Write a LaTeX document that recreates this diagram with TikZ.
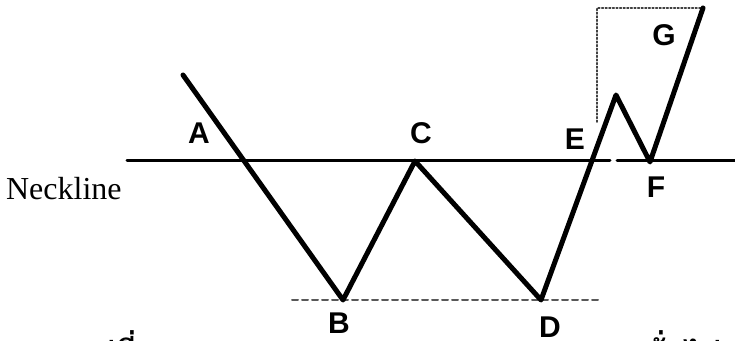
\documentclass[tikz,border=0pt]{standalone}
\usepackage{fontspec}
\setmainfont{Liberation Serif}
\newfontfamily\labelfont{Liberation Sans}
\newfontfamily\thaifont[Script=Thai]{Loma}

\begin{document}
\begin{tikzpicture}[x=0.5pt, y=-0.5pt, line join=round, line cap=round,
	pricepath/.style={line width=2.5pt},
	neck/.style={line width=1.5pt},
	guide/.style={densely dotted, line width=0.8pt, black!75},
	ptlabel/.style={font=\labelfont\bfseries\fontsize{15}{15}\selectfont, inner sep=0pt}]
	\useasboundingbox (0,0) rectangle (735,341);
	\clip (0,0) rectangle (735,341);
	
	% Constants
	\def\yN{161}   % neckline level
	\def\yL{300}   % bottom level
	
	% Main points
	\coordinate (P) at (183,75);
	\coordinate (B) at (343,\yL);
	\coordinate (C) at (415,\yN);
	\coordinate (D) at (541,\yL);
	\coordinate (E) at (616,95);
	\coordinate (F) at (650,162);
	\coordinate (G) at (703,8);
	
	% Neckline ends and gap
	\coordinate (N0) at (127,\yN);
	\coordinate (N1) at (610,\yN);
	\coordinate (N2) at (617,\yN);
	\coordinate (N3) at (735,\yN);
	
	% Bottom guide
	\coordinate (L0) at (292,\yL);
	\coordinate (L1) at (598,\yL);
	
	% Target box corners
	\coordinate (T0) at (597,122);
	\coordinate (T1) at (597,8);
	
	% Neckline
	\draw[neck] (N0) -- (N1);
	\draw[neck] (N2) -- (N3);
	
	% Guides
	\draw[densely dashed, line width=1pt, black!65] (L0) -- (L1);
	\draw[guide] (T0) -- (T1) -- (G);
	
	% Price path
	\draw[pricepath] (P) -- (B) -- (C) -- (D) -- (E) -- (F) -- (G);
	
	% Labels
	\node[ptlabel] (lA) at (199,133) {A};
	\node[ptlabel] (lB) at (339,323) {B};
	\node[ptlabel] (lC) at (421,133) {C};
	\node[ptlabel] (lD) at (550,327) {D};
	\node[ptlabel] (lE) at (575,139) {E};
	\node[ptlabel] (lF) at (656,187) {F};
	\node[ptlabel] (lG) at (664,35) {G};
	\node[anchor=base east, inner sep=0pt, font=\fontsize{16}{16}\selectfont] (lN) at (122,200) {Neckline};
	
	% Caption (cut off at the bottom)
	\node[anchor=base west, inner sep=0pt, font=\thaifont\bfseries\fontsize{16}{16}\selectfont] (cap1) at (78,364) {รูปที่};
	\node[anchor=base east, inner sep=0pt, font=\thaifont\bfseries\fontsize{16}{16}\selectfont] (cap2) at (722,364) {ทั่วไป};
\end{tikzpicture}
\end{document}
